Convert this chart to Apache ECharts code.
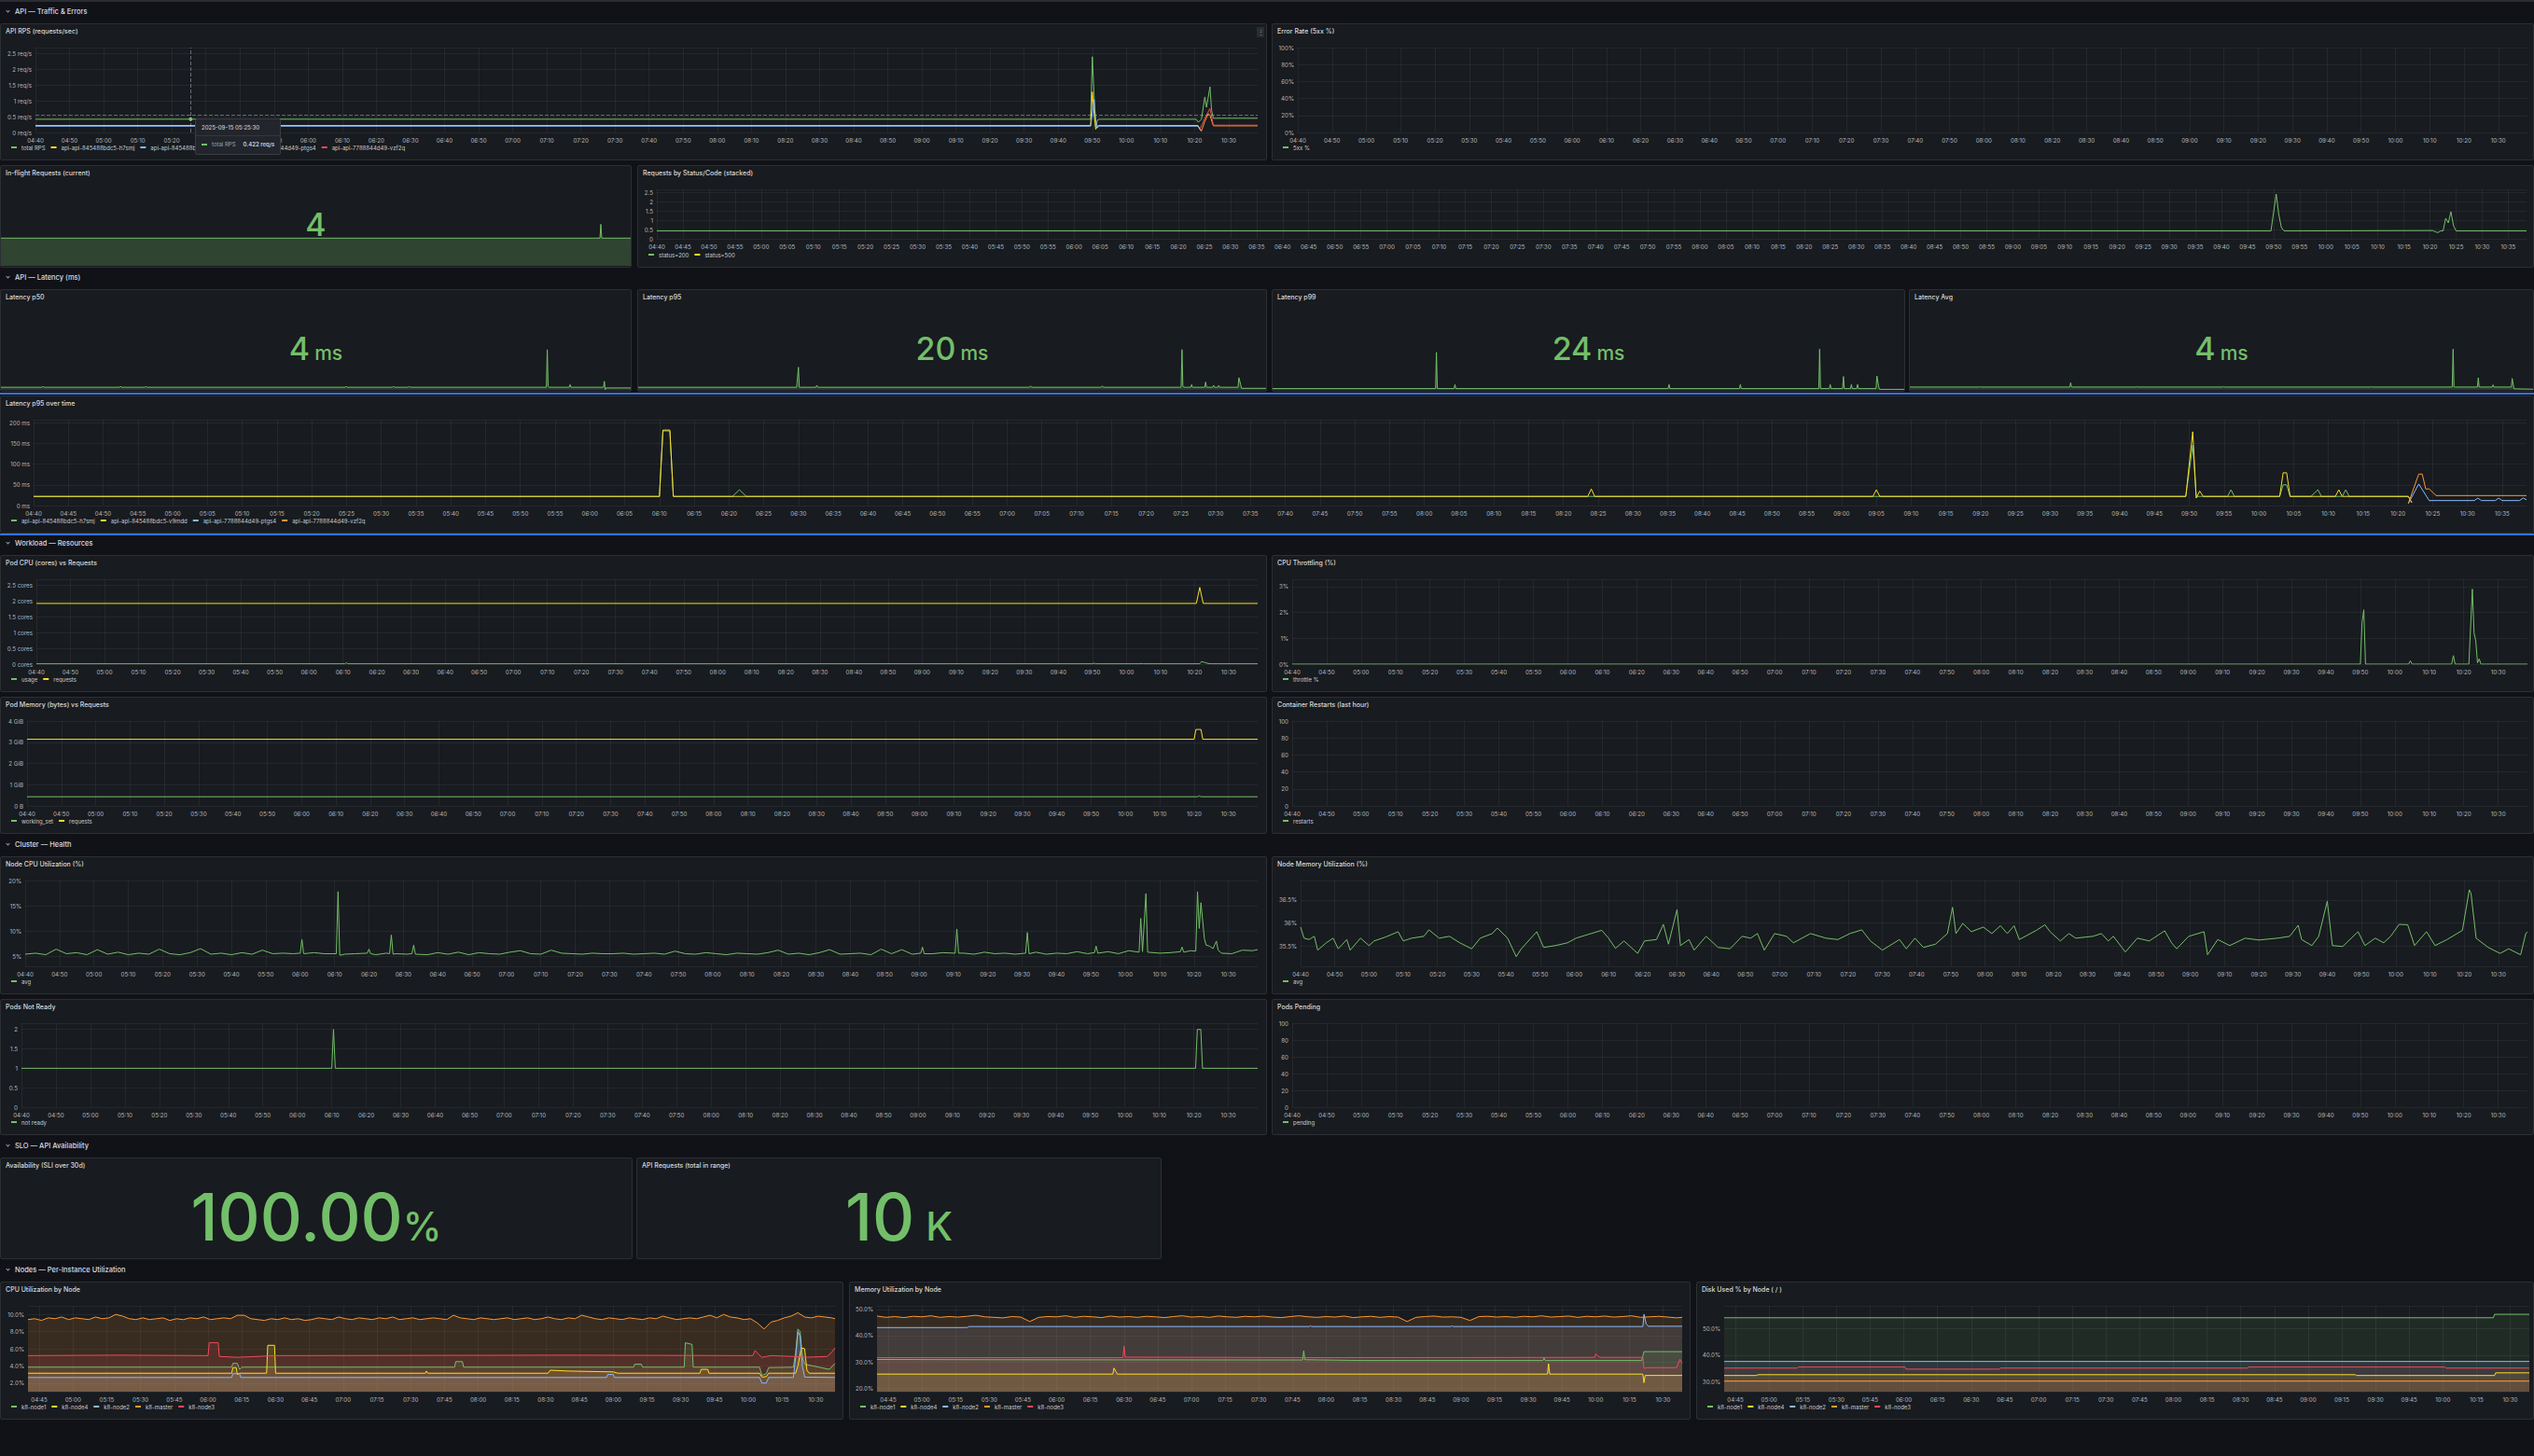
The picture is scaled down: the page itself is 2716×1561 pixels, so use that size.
<!DOCTYPE html>
<html>
<head>
<meta charset="utf-8">
<title>Kubernetes API dashboard</title>
<script src="https://cdn.jsdelivr.net/npm/echarts@6.0.0/dist/echarts.min.js"></script>
<style>
  html, body { margin: 0; padding: 0; background: #111217; }
  #dash { position: relative; width: 2716px; height: 1561px; overflow: hidden; font-family: Inter, "Noto Sans", sans-serif; }
  .topline { position: absolute; left: 0; top: 0; width: 2716px; height: 2px; background: #2a2d32; }
  .blue { position: absolute; left: 0; width: 2716px; height: 2px; background: #3871dc; }
  .row { position: absolute; left: 0; height: 10px; line-height: 10px; color: #d8dbe5; font-size: 7.5px; font-weight: 500; white-space: nowrap; }
  .row .chev { position: absolute; left: 7px; top: 2px; width: 2px; height: 2px; border-right: 1px solid #9fa3ab; border-bottom: 1px solid #9fa3ab; transform: rotate(45deg); }
  .row .txt { position: absolute; left: 16px; top: 0; }
  .panel { position: absolute; box-sizing: border-box; background: #181b1f; border: 1px solid #2c2f34; border-radius: 2px; overflow: hidden; }
  .ptitle { position: absolute; left: 5px; top: 3px; font-size: 7px; font-weight: 500; color: #d8d9da; z-index: 3; white-space: nowrap; }
  .chart { position: absolute; left: 0; top: 0; right: 0; bottom: 0; }
  .stat { position: absolute; left: 0; right: 0; text-align: center; color: #73bf69; z-index: 3; white-space: nowrap; font-weight: 500; }
  .menu { position: absolute; right: 2px; top: 3px; width: 8px; height: 11px; background: #2a2d33; color: #9fa3ab; font-size: 7px; line-height: 11px; text-align: center; z-index: 3; }
  .tip { position: absolute; z-index: 4; min-width: 76px; box-sizing: border-box; background: #22252b; border: 1px solid #3a3d43; border-radius: 2px; color: #ccccdc; font-size: 6px; line-height: 8px; white-space: nowrap; }
  .tip .head { padding: 5px 6px 4px; font-weight: 500; }
  .tip .body { border-top: 1px solid #34373d; padding: 5px 6px 6px; }
  .tip .mk { display: inline-block; width: 6px; height: 2px; background: #73bf69; vertical-align: middle; margin-right: 5px; }
  .tip .nm { color: #9fa3ab; }
  .tip .val { margin-left: 8px; font-weight: 600; }
</style>
</head>
<body>
<div id="dash"></div>
<script>
// ---- time axis: 04:40 .. 10:38:30, half-minute categories ----
const T0 = 280;          // 04:40 in minutes of the day
const T_END = 358.5;     // minutes after 04:40 shown on the axis
const timeCats = [];
for (let i = 0; i <= T_END * 2; i++) {
  const t = T0 + i / 2;
  const h = Math.floor(t / 60), m = Math.floor(t % 60);
  timeCats.push(String(h).padStart(2, '0') + ':' + String(m).padStart(2, '0') + (t % 1 ? ':30' : ':00'));
}

// ---- data (x = minutes after 04:40, y = value) ----
const rpsTotal = [[0,0.42],[45.5,0.422],[309.5,0.42],[310,2.41],[310.5,1.2],[311,0.17],[311.5,0.4],[312,0.42],[340.5,0.42],[341,0.33],[341.5,0.36],[342,0.42],[343,1.13],[343.5,0.8],[344.5,1.45],[345,0.7],[345.5,0.45],[358.5,0.45]];
const rpsH7smj = [[0,0.22],[309.5,0.22],[310,1.29],[310.5,0.6],[311,0.1],[311.5,0.2],[312,0.22],[341,0.22],[341.5,0.12],[342,0.05]];
const rpsV9mdd = [[0,0.2],[309.5,0.2],[310.5,1.05],[311,0.4],[311.5,0.15],[312,0.2],[341,0.2],[341.5,0.1],[342,0.04]];
const rpsPtgs4 = [[342,0.05],[343,0.35],[344,0.6],[344.5,0.55],[345.5,0.21],[358.5,0.21]];
const rpsVzf2q = [[341.5,0.09],[343,0.45],[344.5,0.76],[345.5,0.23],[358.5,0.23]];
const hoverAt = 45.5, hoverY = 0.55, hoverPoint = 0.422;
const hoverTime = '2025-09-15 05:25:30', hoverValue = '0.422 req/s';

const errorRate5xx = [];

const inflight = [[0,4],[341,4],[341.5,6],[342,4],[358.5,4]];

const status200 = [[0,0.42],[309.5,0.42],[310.5,2.4],[311,1.3],[311.5,0.6],[312,0.42],[340.5,0.44],[341,0.38],[341.5,0.33],[342,0.42],[342.5,0.42],[343,1.1],[343.5,0.85],[344,1.45],[344.5,0.7],[345,0.42],[358.5,0.42]];
const status500 = [];

const sparkP50 = [[0,4],[23.5,4],[24,5.5],[24.5,4],[67.5,4],[68,5.5],[68.5,4],[82,4],[82.5,5.5],[83,4],[196,4],[196.5,5.5],[197,4],[223,4],[223.5,5.5],[224,4],[232,4],[232.5,5.5],[233,4],[310.5,4],[311,61],[311.5,6],[312,4],[323.5,4],[324,8],[324.5,4],[343,4],[343.5,13],[344,0.5],[344.5,3],[358.5,3]];
const sparkP95 = [[0,20],[90.5,20],[91.5,173],[92,20],[101.5,20],[102,35],[102.5,20],[223.5,20],[224,30],[224.5,20],[264.5,20],[265,30],[265.5,20],[310,20],[310.5,307],[311,30],[311.5,20],[315.5,20],[316,40],[316.5,20],[323.5,20],[324,60],[324.5,20],[328,20],[328.5,35],[329,20],[331,20],[331.5,35],[332,20],[342.5,20],[343,93],[344,40],[344.5,12],[358.5,12]];
const sparkP99 = [[0,24],[92.5,24],[93,700],[93.5,24],[103,24],[103.5,100],[104,24],[224.5,24],[225,100],[225.5,24],[265,24],[265.5,100],[266,24],[310,24],[310.5,760],[311,24],[316,24],[316.5,100],[317,24],[323.5,24],[324,250],[324.5,24],[328,24],[328.5,100],[329,24],[331.5,24],[332,100],[332.5,24],[342.5,24],[343,260],[344,60],[344.5,10],[358.5,10]];
const sparkAvg = [[0,4],[40,4],[40.5,4.6],[41,4],[92,4],[92.5,10],[93,4],[130,4],[130.5,4.6],[131,4],[180,4],[180.5,4.8],[181,4],[265,4],[265.5,4.6],[266,4],[312,4],[312.5,57],[313,4.5],[313.5,4],[326.5,4],[327,17],[327.5,4],[335,4],[335.5,7],[336,4],[346,4],[346.5,16],[347.5,1.5],[358.5,1]];
const statValues = { inflight: ['4', ''], p50: ['4', 'ms'], p95: ['20', 'ms'], p99: ['24', 'ms'], avg: ['4', 'ms'], avail: ['100.00', '%'], apireq: ['10', 'K'] };

const p95H7smj = [[0,22],[90,22],[90.5,180],[91.5,180],[92,22],[100.5,22],[101.5,38],[102.5,22],[309.5,22],[310.5,146],[311,22],[315.5,22],[316,38],[316.5,22],[323,22],[323.5,50],[324,50],[324.5,22],[327.5,22],[328.5,38],[329,22],[332,22],[332.5,38],[333,22],[341.5,22],[342,7]];
const p95V9mdd = [[0,22],[90,22],[90.5,182],[91.5,182],[92,22],[223.5,22],[224,40],[224.5,22],[264.5,22],[265,38],[265.5,22],[309.5,22],[310.5,178],[311,18],[311.5,35],[312,22],[323,22],[323.5,79],[324,79],[324.5,22],[331,22],[331.5,38],[332,22],[341.5,22],[342,7]];
const p95Ptgs4 = [[341.5,5],[343,52],[344.5,12],[351,12],[351.5,18],[352,12],[354,12],[354.5,18],[355,12],[357.5,12],[358,18],[358.5,14]];
const p95Vzf2q = [[341.5,5],[343,76],[343.5,76],[344,40],[344.5,40],[345.5,24],[358.5,24]];

const podCpuUsage = [[0,0.01],[90.5,0.01],[91,0.04],[91.5,0.01],[310,0.01],[310.5,0.03],[311,0.01],[324,0.01],[324.5,0.02],[325,0.01],[341.5,0.01],[342,0.08],[343,0.05],[344,0.02],[345,0.01],[358.5,0.01]];
const podCpuRequests = [[0,1.93],[340.5,1.93],[341.5,2.44],[342.5,1.93],[358.5,1.93]];
const podMemWorkingSet = [[0,0.43],[341,0.43],[341.5,0.47],[342,0.43],[358.5,0.43]];
const podMemRequests = [[0,3.14],[340,3.14],[340.5,3.6],[342,3.6],[342.5,3.14],[358.5,3.14]];
const throttlePct = [[0,0],[310,0],[310.5,1.6],[311,2.1],[311.5,0],[324,0],[324.5,0.13],[325,0],[336.5,0],[337,0.33],[337.5,0],[341.5,0],[342.5,2.9],[343,1.2],[343.5,0.9],[344,0.05],[344.5,0.2],[345,0],[358.5,0]];
const restarts = [];

// node CPU avg: one reading every 3 minutes, plus the spikes
const nodeCpuBase = [
  5.4,5.6,5.3,6.4,5.5,5.7,5.3,6.3,5.4,5.8,
  5.3,5.6,5.4,6.4,5.5,5.3,5.7,6.5,5.4,5.6,
  5.3,5.7,5.4,6.2,5.5,5.6,5.5,5.6,5.7,5.5,
  5.6,5.4,5.5,5.7,5.3,5.6,5.5,5.4,5.6,5.3,
  5.7,5.4,5.8,5.3,5.7,5.5,5.4,5.8,6.1,5.5,
  5.4,6.2,5.6,5.5,5.4,5.6,5.5,5.5,5.6,5.4,
  5.5,5.6,5.4,6.0,5.5,5.4,5.7,5.5,5.3,5.6,
  5.5,5.4,5.7,6.2,5.4,5.6,5.3,5.7,6.3,5.4,
  5.5,5.6,5.3,6.4,5.5,6.3,5.4,5.6,5.5,5.7,
  5.5,5.6,5.4,5.8,5.5,5.6,5.4,5.5,5.8,5.4,
  5.6,5.5,5.9,5.5,5.6,5.9,5.5,6.1,5.6,5.5,
  5.6,5.7,5.6,6.1,6.0,6.2,5.6,5.5,6.2,6.1
];
const nodeCpuSpikes = [
  [80,5.6],[80.5,8.3],[81,5.5],[90.5,5.5],[91,17.8],[91.5,5.2],[99.5,5.6],[100,6.4],[100.5,5.5],
  [106,5.5],[106.5,9.2],[107,5.4],[112.5,5.5],[113,7.2],[113.5,5.4],[260.5,5.6],[261,6.8],[261.5,5.5],
  [270.5,5.6],[271,10.4],[271.5,5.6],[291,5.6],[291.5,9.7],[292,5.5],[311,5.7],[311.5,7.0],[312,5.6],
  [324,5.8],[324.5,12.5],[325,5.9],[326,17.4],[326.5,5.8],[336,5.9],[336.5,6.8],[337,5.8],
  [340.5,6.0],[341,17.8],[341.5,10.5],[342,15.6],[343,8.5],[343.5,7.2],[344.5,7.0],[345.5,6.5],[346.5,8.0],[347,6.2],[358.5,6.3]
];
const nodeMemAvg = [[0,35.91],[1,35.67],[2.5,35.64],[4,35.71],[5,35.41],[7.5,35.57],[9.5,35.67],[11,35.44],[13.5,35.64],[14.5,35.41],[17.5,35.67],[20,35.51],[21.5,35.61],[25,35.7],[28.5,35.81],[30,35.61],[32.5,35.67],[36,35.71],[37.5,35.85],[40.5,35.67],[43.5,35.71],[46.5,35.57],[50,35.44],[52.5,35.67],[56,35.77],[57.5,35.89],[60.5,35.67],[63,35.27],[64.5,35.44],[69,35.81],[71,35.47],[74.5,35.51],[78,35.57],[80.5,35.67],[84,35.75],[88,35.84],[90,35.67],[92,35.45],[94.5,35.61],[98.5,35.34],[100.5,35.61],[104,35.64],[106,35.97],[107.5,35.54],[110,36.29],[111,35.51],[113.5,35.64],[115,35.41],[118.5,35.71],[122,35.47],[125.5,35.44],[129,35.71],[131.5,35.67],[133.5,35.77],[135.5,35.41],[138.5,35.77],[142,35.71],[144,35.57],[149,35.77],[153.5,35.67],[157,35.64],[160.5,35.77],[164,35.85],[166.5,35.61],[170,35.41],[175,35.64],[177,35.44],[179.5,35.67],[182,35.47],[185.5,35.54],[189,35.77],[190.5,36.34],[191.5,35.77],[193.5,35.99],[196,35.81],[199.5,35.91],[202,35.77],[204.5,35.94],[206.5,35.77],[208.5,35.94],[210,35.64],[215,35.84],[217.5,35.96],[219,35.81],[222,35.61],[224.5,35.77],[226.5,35.67],[231.5,35.71],[234,35.77],[236,35.61],[237.5,35.71],[241,35.37],[244.5,35.67],[248,35.61],[252.5,35.83],[254.5,35.57],[256,35.44],[259.5,35.71],[264,35.81],[265,35.31],[268,35.64],[271.5,35.51],[276,35.67],[280,35.63],[285.5,35.67],[289,35.71],[291.5,35.95],[292.5,35.64],[295.5,35.51],[297.5,35.71],[300,36.47],[301.5,35.51],[304.5,35.49],[309,35.81],[311,35.51],[314,35.67],[316.5,35.57],[318.5,35.71],[321,35.97],[323.5,35.96],[325.5,35.51],[329,35.81],[331.5,35.51],[335,35.64],[339.5,35.84],[341.5,36.72],[342,36.64],[343.5,35.67],[347,35.47],[350.5,35.34],[353,35.44],[356.5,35.31],[358,35.77],[358.5,35.81]];
const podsNotReady = [[0,1],[90,1],[90.5,2],[91,1],[340.5,1],[341,2],[342,2],[342.5,1],[358.5,1]];
const podsPending = [];

// per node CPU %: master every 3 minutes, others as read points
const cpuMaster = [
  9.4,9.5,9.3,9.6,9.5,9.7,9.4,9.6,9.5,9.4,
  9.7,9.5,9.6,10.0,9.8,9.5,9.4,9.6,9.4,9.5,
  9.6,9.3,9.5,9.4,9.6,9.5,9.7,9.4,9.5,9.6,
  9.5,9.9,9.9,9.5,9.4,9.3,9.5,9.4,9.6,9.4,
  9.5,9.3,9.4,9.6,9.5,9.4,9.7,9.5,9.4,9.6,
  9.5,9.4,9.6,9.5,9.7,9.4,9.5,9.6,9.4,9.5,
  9.6,9.5,9.4,9.9,9.6,9.5,9.4,9.6,9.5,9.4,
  9.5,9.6,9.4,9.5,9.6,9.4,9.5,9.7,9.5,9.4,
  9.6,9.5,9.9,9.7,9.5,9.4,9.6,9.5,9.4,9.6,
  9.5,9.4,9.6,9.5,9.8,9.6,9.4,9.5,9.6,9.5,
  9.7,9.9,9.6,10.0,9.7,9.6,9.4,9.5,9.0,8.3,
  9.1,9.3,9.6,9.8,10.2,9.7,9.6,9.8,9.7,9.6
];
const cpuMasterLast = [[358.5,9.5]];
const cpuNode3 = [[0,5.2],[40,5.25],[80,5.2],[80.5,6.7],[84.5,6.7],[85,5.1],[93,5.0],[110,5.2],[240,5.25],[322,5.2],[323,5.8],[324,5.5],[326,5.0],[328,5.1],[330,5.2],[340,5.1],[345,5.0],[355,5.1],[357,5.6],[358.5,6.1]];
const cpuNode1 = [[0,3.85],[90.5,3.85],[91,4.3],[93,4.3],[94,3.6],[95,3.85],[189.5,3.85],[190,4.5],[193,4.5],[193.5,3.85],[269,3.85],[269.5,4.2],[272.5,4.2],[273,3.85],[291.5,3.85],[292,6.7],[295,6.5],[295.5,3.85],[325,3.85],[326,2.9],[328,3.1],[329,3.8],[340,3.85],[341,5.5],[342,8.3],[343,8.0],[344,5.0],[345,4.2],[356,3.6],[358.5,4.3]];
const cpuNode4 = [[0,3.15],[90.5,3.15],[91,3.8],[92.5,3.8],[93,3.0],[94,3.15],[106,3.15],[106.5,6.4],[109.5,6.4],[110,3.15],[176.5,3.15],[177,3.4],[177.5,3.15],[231,3.15],[232,3.5],[240,3.4],[260,3.3],[262,3.15],[298.5,3.15],[299,3.6],[302,3.6],[302.5,3.15],[325,3.15],[326,2.7],[328,2.75],[329,3.15],[341,3.15],[342,4.0],[343.5,6.1],[345,6.0],[346,3.5],[347,3.15],[358.5,3.15]];
const cpuNode2 = [[0,2.65],[90.5,2.65],[91,3.1],[94,3.1],[94.5,2.65],[257,2.65],[257.5,3.0],[260,3.0],[260.5,2.65],[325,2.65],[326,2.0],[328,2.0],[329,2.65],[340,2.65],[341,5.0],[342,8.0],[343,7.5],[344,4.0],[345,2.7],[358.5,2.65]];

// per node memory %: master every 4 minutes, others as read points
const memMaster = [
  47.5,47.0,47.3,46.9,47.4,47.2,47.6,47.0,47.3,47.1,
  47.4,47.8,47.2,47.0,46.8,47.3,47.1,45.4,47.0,47.3,
  47.2,47.6,47.0,47.4,47.2,46.9,47.5,47.1,47.3,47.0,
  47.4,47.2,46.9,47.3,47.6,47.1,47.3,47.0,47.5,47.2,
  47.0,47.4,47.2,47.5,47.1,46.9,47.3,47.6,47.2,47.0,
  47.3,47.1,47.5,46.9,47.2,47.4,47.0,47.3,47.1,45.4,
  47.0,47.3,47.5,47.1,47.2,47.0,45.8,47.3,47.4,47.1,
  47.3,47.0,47.4,47.2,47.6,47.1,47.3,47.5,47.0,47.4,
  47.2,47.5,47.1,47.3,47.6,47.0,47.2,47.4,47.1,46.8
];
const memMasterLast = [[358.5,47.0]];
const memNode2 = [[0,43.1],[40,43.1],[41,43.5],[192.5,43.5],[193,43.8],[193.5,43.5],[255.5,43.5],[256,43.8],[256.5,43.5],[341,43.5],[341.5,48.2],[342.5,44.4],[343.5,43.6],[358.5,43.6]];
const memNode3 = [[0,31.6],[109.5,31.6],[110,36.0],[110.5,31.8],[200,31.6],[319.5,31.7],[320,33.0],[321,32.2],[322,31.7],[341,31.7],[341.5,27.5],[343,27.8],[356,27.8],[357.5,31.0],[358.5,29.5]];
const memNode1 = [[0,30.9],[50,30.8],[189.5,30.7],[190,34.2],[190.5,30.8],[217,30.5],[296.5,30.5],[297,31.5],[297.5,30.5],[340.5,30.5],[341.5,33.9],[358.5,33.9]];
const memNode4 = [[0,25.3],[105,25.3],[105.5,27.6],[106.5,26.2],[107,25.3],[298.5,25.3],[299,29.3],[299.5,25.3],[341,25.3],[341.5,22.0],[342,24.8],[358.5,24.8]];

// disk used % on /
const diskNode1 = [[0,54.1],[342.5,54.1],[343,55.4],[358.5,55.4]];
const diskNode2 = [[0,37.6],[358.5,37.6]];
const diskNode3 = [[0,35.1],[32.5,35.1],[33,35.5],[80.5,35.5],[81,34.7],[122.5,34.7],[123,35.1],[233,35.1],[233.5,35.5],[321,35.5],[321.5,35.1],[358.5,35.1]];
const diskNode4 = [[0,32.3],[14.5,32.3],[15,32.6],[281,32.6],[281.5,32.3],[343,32.3],[343.5,33.3],[358.5,33.3]];
const diskMaster = [[0,30.2],[358.5,30.2]];

// ---- layout ----
const FONT = 'Inter, "Noto Sans", sans-serif';
const G = '#73bf69', Y = '#fade2a', B = '#8ab8ff', O = '#ff9830', R = '#f2495c';
const GRID = 'rgba(204,204,220,0.07)', LABEL = '#b4b7bf';

const rows = [['API — Traffic & Errors', 8], ['API — Latency (ms)', 293], ['Workload — Resources', 578], ['Cluster — Health', 901], ['SLO — API Availability', 1224], ['Nodes — Per-Instance Utilization', 1357]];
const layout = [
  ['rps', 'API RPS (requests/sec)', 0, 25, 1358, 147],
  ['err', 'Error Rate (5xx %)', 1363, 25, 1353, 147],
  ['inflight', 'In-flight Requests (current)', 0, 177, 677, 110],
  ['status', 'Requests by Status/Code (stacked)', 683, 177, 2033, 110],
  ['p50', 'Latency p50', 0, 310, 677, 110],
  ['p95', 'Latency p95', 683, 310, 675, 110],
  ['p99', 'Latency p99', 1363, 310, 679, 110],
  ['avg', 'Latency Avg', 2046, 310, 670, 110],
  ['p95t', 'Latency p95 over time', 0, 424, 2716, 148],
  ['podcpu', 'Pod CPU (cores) vs Requests', 0, 595, 1358, 147],
  ['throttle', 'CPU Throttling (%)', 1363, 595, 1353, 147],
  ['podmem', 'Pod Memory (bytes) vs Requests', 0, 747, 1358, 147],
  ['restarts', 'Container Restarts (last hour)', 1363, 747, 1353, 147],
  ['nodecpu', 'Node CPU Utilization (%)', 0, 918, 1358, 148],
  ['nodemem', 'Node Memory Utilization (%)', 1363, 918, 1353, 148],
  ['notready', 'Pods Not Ready', 0, 1071, 1358, 146],
  ['pending', 'Pods Pending', 1363, 1071, 1353, 146],
  ['avail', 'Availability (SLI over 30d)', 0, 1241, 678, 109],
  ['apireq', 'API Requests (total in range)', 682, 1241, 563, 109],
  ['cpunode', 'CPU Utilization by Node', 0, 1374, 904, 148],
  ['memnode', 'Memory Utilization by Node', 910, 1374, 902, 148],
  ['disknode', 'Disk Used % by Node ( / )', 1818, 1374, 898, 148]
];

const dash = document.getElementById('dash');
dash.insertAdjacentHTML('beforeend', '<div class="topline"></div><div class="blue" style="top:421px"></div><div class="blue" style="top:572px"></div>');
rows.forEach(([t, y]) => {
  dash.insertAdjacentHTML('beforeend', `<div class="row" style="top:${y}px"><span class="chev"></span><span class="txt">${t}</span></div>`);
});
layout.forEach(([id, title, x, y, w, h]) => {
  dash.insertAdjacentHTML('beforeend',
    `<div class="panel" style="left:${x}px;top:${y}px;width:${w}px;height:${h}px"><div class="ptitle">${title}</div><div class="chart" id="${id}"></div></div>`);
});
document.getElementById('rps').parentNode.insertAdjacentHTML('beforeend', '<div class="menu">⋮</div>');

// ---- helpers ----
const idx = list => list.map(p => [p[0] * 2, p[1]]);
const dense = (step, vals) => vals.map((v, i) => [i * step, v]);
function merge(base, spikes) {
  const keep = base.filter(p => !spikes.some(s => Math.abs(s[0] - p[0]) < 1));
  return keep.concat(spikes).sort((a, b) => a[0] - b[0]);
}
const every = step => i => i % 2 === 0 && (T0 + i / 2) % step === 0;

function timeAxis(step) {
  return {
    type: 'category', data: timeCats, boundaryGap: false,
    axisLine: { show: false }, axisTick: { show: false },
    axisLabel: { interval: every(step), formatter: v => v.slice(0, 5), color: LABEL, fontSize: 6.2, fontFamily: FONT, margin: 5 },
    splitLine: { show: true, interval: every(step), lineStyle: { color: GRID, width: 1 } }
  };
}

function line(name, color, data, extra) {
  return Object.assign({
    name, type: 'line', data: idx(data), showSymbol: false, symbol: 'none', color,
    lineStyle: { width: 1, color }, emphasis: { disabled: true }, animation: false
  }, extra || {});
}

function tsOption(c) {
  return {
    animation: false,
    textStyle: { fontFamily: FONT },
    grid: { left: c.left, right: c.right, top: 25, bottom: c.bottom || 29, containLabel: false, outerBoundsMode: 'none' },
    legend: {
      left: 6, bottom: 5, icon: 'rect', itemWidth: 6, itemHeight: 2, itemGap: 6, selectedMode: false,
      textStyle: { color: '#c7c9d1', fontSize: 6, fontFamily: FONT }
    },
    xAxis: timeAxis(c.step || 10),
    yAxis: Object.assign({
      type: 'value', axisLine: { show: false }, axisTick: { show: false },
      splitLine: { lineStyle: { color: GRID, width: 1 } },
      axisLabel: Object.assign({ color: LABEL, fontSize: 6.2, fontFamily: FONT, margin: 4, formatter: c.fmt }, c.yLabel || {})
    }, c.y),
    series: c.series
  };
}

function sparkOption(data, max, top, fill) {
  return {
    animation: false,
    grid: { left: 0, right: 0, top: top, bottom: 1, outerBoundsMode: 'none' },
    xAxis: { type: 'category', data: timeCats, boundaryGap: false, show: false },
    yAxis: { type: 'value', min: 0, max: max, show: false },
    series: [{ type: 'line', data: idx(data), showSymbol: false, symbol: 'none', silent: true,
      lineStyle: { width: 1, color: G }, areaStyle: { color: G, opacity: fill } }]
  };
}

function mk(id, option) {
  const chart = echarts.init(document.getElementById(id), null, { renderer: 'svg' });
  chart.setOption(option);
  return chart;
}

function statText(id, size, unitSize, baseline, gap) {
  const [v, u] = statValues[id];
  const top = baseline - 0.864 * size;
  const unit = u ? `<span style="font-size:${unitSize}px;margin-left:${gap}px">${u}</span>` : '';
  document.getElementById(id).parentNode.insertAdjacentHTML('beforeend',
    `<div class="stat" style="top:${top}px;font-size:${size}px;line-height:${size}px">${v}${unit}</div>`);
}

const noEnds = { showMinLabel: false, showMaxLabel: false };
const noMax = { showMaxLabel: false };

// ---- API traffic ----
const rpsSeries = [line('total RPS', G, rpsTotal, {
    markPoint: { silent: true, symbol: 'circle', symbolSize: 4, itemStyle: { color: G }, label: { show: false },
      data: [{ coord: [hoverAt * 2, hoverPoint] }] } }),
  line('api-api-845488bdc5-h7smj', Y, rpsH7smj), line('api-api-845488bdc5-v9mdd', B, rpsV9mdd),
  line('api-api-7788844d49-ptgs4', O, rpsPtgs4), line('api-api-7788844d49-vzf2q', R, rpsVzf2q)];
const rpsChart = mk('rps', Object.assign(tsOption({
  left: 37, right: 9, fmt: v => v + ' req/s', y: { min: 0, max: 2.7, interval: 0.5 }, yLabel: noMax, series: rpsSeries
}), {
  tooltip: {
    trigger: 'axis', triggerOn: 'none', alwaysShowContent: true, showContent: false, transitionDuration: 0,
    axisPointer: { type: 'cross', label: { show: false },
      lineStyle: { color: 'rgba(204,204,220,0.45)', type: 'dashed', width: 1 },
      crossStyle: { color: 'rgba(204,204,220,0.45)', type: 'dashed', width: 1 } }
  }
}));
(function () {
  const p = rpsChart.convertToPixel({ gridIndex: 0 }, [hoverAt * 2, hoverY]);
  rpsChart.dispatchAction({ type: 'showTip', x: p[0], y: p[1] });
  document.getElementById('rps').parentNode.insertAdjacentHTML('beforeend',
    `<div class="tip" style="left:${Math.round(p[0] + 5)}px;top:${Math.round(p[1] + 4)}px">` +
    `<div class="head">${hoverTime}</div>` +
    `<div class="body"><span class="mk"></span><span class="nm">total RPS</span><span class="val">${hoverValue}</span></div></div>`);
})();

mk('err', tsOption({ left: 27, right: 6, fmt: v => v + '%', y: { min: 0, max: 100, interval: 20 },
  series: [line('5xx %', G, errorRate5xx)] }));

mk('inflight', sparkOption(inflight, 7, 55, 0.25));
statText('inflight', 34, 21, 75, 0);

mk('status', tsOption({ left: 20, right: 7, bottom: 30, step: 5, fmt: v => String(v), y: { min: 0, max: 2.65, interval: 0.5 }, yLabel: noMax,
  series: [line('status=200', G, status200, { stack: 'codes' }), line('status=500', Y, status500, { stack: 'codes' })] }));

// ---- latency ----
mk('p50', sparkOption(sparkP50, 65, 61, 0.2));
mk('p95', sparkOption(sparkP95, 327, 61, 0.2));
mk('p99', sparkOption(sparkP99, 800, 61, 0.2));
mk('avg', sparkOption(sparkAvg, 60, 61, 0.2));
['p50', 'p95', 'p99', 'avg'].forEach(id => statText(id, 34, 21, 75, 5));

mk('p95t', tsOption({ left: 35, right: 7, step: 5, fmt: v => v + ' ms', y: { min: 0, max: 207, interval: 50 }, yLabel: noMax,
  series: [line('api-api-845488bdc5-h7smj', G, p95H7smj), line('api-api-845488bdc5-v9mdd', Y, p95V9mdd),
    line('api-api-7788844d49-ptgs4', B, p95Ptgs4), line('api-api-7788844d49-vzf2q', O, p95Vzf2q)] }));

// ---- workload ----
mk('podcpu', tsOption({ left: 38, right: 9, fmt: v => v + ' cores', y: { min: 0, max: 2.7, interval: 0.5 }, yLabel: noMax,
  series: [line('usage', G, podCpuUsage), line('requests', Y, podCpuRequests)] }));
mk('throttle', tsOption({ left: 21, right: 6, fmt: v => v + '%', y: { min: 0, max: 3.28, interval: 1 }, yLabel: noMax,
  series: [line('throttle %', G, throttlePct)] }));
mk('podmem', tsOption({ left: 28, right: 9, fmt: v => (v === 0 ? '0 B' : v + ' GiB'), y: { min: 0, max: 4, interval: 1 },
  series: [line('working_set', G, podMemWorkingSet), line('requests', Y, podMemRequests)] }));
mk('restarts', tsOption({ left: 21, right: 6, fmt: v => String(v), y: { min: 0, max: 100, interval: 20 },
  series: [line('restarts', G, restarts)] }));

// ---- cluster health ----
mk('nodecpu', tsOption({ left: 26, right: 9, fmt: v => v + '%', y: { min: 3, max: 20, splitNumber: 4 }, yLabel: { showMinLabel: false },
  series: [line('avg', G, merge(dense(3, nodeCpuBase), nodeCpuSpikes))] }));
mk('nodemem', tsOption({ left: 30, right: 6, fmt: v => v + '%', y: { min: 35.06, max: 36.92, splitNumber: 4 }, yLabel: noEnds,
  series: [line('avg', G, nodeMemAvg)] }));
mk('notready', tsOption({ left: 22, right: 9, fmt: v => String(v), y: { min: 0, max: 2.16, interval: 0.5 }, yLabel: noMax,
  series: [line('not ready', G, podsNotReady)] }));
mk('pending', tsOption({ left: 21, right: 6, fmt: v => String(v), y: { min: 0, max: 100, interval: 20 },
  series: [line('pending', G, podsPending)] }));

// ---- SLO ----
statText('avail', 70, 42, 88, 0);
statText('apireq', 70, 42, 88, 12);

// ---- nodes ----
const fillA = op => ({ areaStyle: { opacity: op } });
mk('cpunode', tsOption({ left: 29, right: 8, step: 15, fmt: v => v.toFixed(1) + '%', y: { min: 1, max: 11, splitNumber: 5 }, yLabel: noEnds,
  series: [line('k8-node1', G, cpuNode1, fillA(0.14)), line('k8-node4', Y, cpuNode4, fillA(0.14)), line('k8-node2', B, cpuNode2, fillA(0.14)),
    line('k8-master', O, dense(3, cpuMaster).concat(cpuMasterLast), fillA(0.14)), line('k8-node3', R, cpuNode3, fillA(0.14))] }));
mk('memnode', tsOption({ left: 29, right: 8, step: 15, fmt: v => v.toFixed(1) + '%', y: { min: 18.6, max: 51.4, splitNumber: 3 }, yLabel: noEnds,
  series: [line('k8-node1', G, memNode1, fillA(0.13)), line('k8-node4', Y, memNode4, fillA(0.13)), line('k8-node2', B, memNode2, fillA(0.13)),
    line('k8-master', O, dense(4, memMaster).concat(memMasterLast), fillA(0.13)), line('k8-node3', R, memNode3, fillA(0.13))] }));
mk('disknode', tsOption({ left: 29, right: 4, step: 15, fmt: v => v.toFixed(1) + '%', y: { min: 26.2, max: 58.6, splitNumber: 3 }, yLabel: noEnds,
  series: [line('k8-node1', G, diskNode1, fillA(0.1)), line('k8-node4', Y, diskNode4, fillA(0.1)), line('k8-node2', B, diskNode2, fillA(0.1)),
    line('k8-master', O, diskMaster, fillA(0.1)), line('k8-node3', R, diskNode3, fillA(0.1))] }));
</script>
</body>
</html>
